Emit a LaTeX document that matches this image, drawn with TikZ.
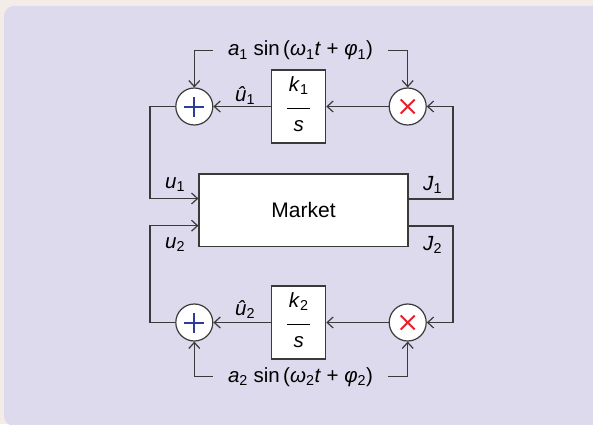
\documentclass[tikz,border=0pt]{standalone}
\usepackage{fontspec}
\setmainfont{Liberation Sans}
\usetikzlibrary{arrows.meta,positioning,calc}
\definecolor{pagebg}{HTML}{F4EDE7}
\definecolor{panelbg}{HTML}{DCDAEC}
\definecolor{wire}{HTML}{3A3A3A}
\definecolor{plusblue}{HTML}{2B3D99}
\definecolor{timesred}{HTML}{E8202A}
\newcommand{\kfrac}[1]{\begin{tabular}{@{}c@{}}\textit{k}\textsubscript{#1}\\[-7pt]\rule{23pt}{1.2pt}\\[-3pt]\textit{s}\end{tabular}}
\newcommand{\sinterm}[1]{\textit{a}\textsubscript{#1} sin\,(\textit{ω}\textsubscript{#1}\textit{t} + \textit{φ}\textsubscript{#1})}
\tikzset{
  sig/.style={-{Straight Barb[length=6pt,width=11pt]},line width=1.2pt,draw=wire},
  block/.style={draw=wire,line width=1.2pt,fill=white,inner sep=0pt},
  junction/.style={circle,draw=wire,line width=1.2pt,fill=white,minimum size=37pt,inner sep=0pt},
  plusjunc/.style={junction,path picture={
    \draw[plusblue,line width=2pt] ([xshift=-10pt]path picture bounding box.center) -- ++(20pt,0)
      ([yshift=-10pt]path picture bounding box.center) -- ++(0,20pt);}},
  timesjunc/.style={junction,path picture={
    \draw[timesred,line width=2pt] ([shift={(-7pt,-7pt)}]path picture bounding box.center) -- ++(14pt,14pt)
      ([shift={(-7pt,7pt)}]path picture bounding box.center) -- ++(14pt,-14pt);}},
  dither/.style={inner xsep=15pt,inner ysep=2pt},
  sublabel/.style={inner sep=0pt,anchor=base west}
}
\begin{document}
\begin{tikzpicture}[x=1pt,y=1pt,font=\fontsize{20.5}{24.6}\selectfont]
  \useasboundingbox (0,0) rectangle (593,424);
  % background panel
  \fill[pagebg] (0,0) rectangle (593,424);
  \begin{scope}
    \clip (0,0) rectangle (593,424);
    \fill[panelbg,rounded corners=10pt] (4,-2) rectangle (610,418);
  \end{scope}
  % plant and integrators
  \node[block,minimum width=209pt,minimum height=72.7pt,font=\fontsize{21}{25}\selectfont] (market) at (303.5,213.7) {Market};
  \node[block,minimum width=54pt,minimum height=73pt] (k1) at (298.7,317.5) {\kfrac{1}};
  \node[block,minimum width=54pt,minimum height=73pt] (k2) at (298.7,101.5) {\kfrac{2}};
  % summing and multiplying junctions
  \node[plusjunc] (add1) at (194.3,317.5) {};
  \node[timesjunc] (mul1) at (407.7,317.5) {};
  \node[plusjunc] (add2) at (194.3,101.5) {};
  \node[timesjunc] (mul2) at (407.7,101.5) {};
  % dither signals
  \node[dither] (sin1) at (300.5,373.3) {\sinterm{1}};
  \node[dither] (sin2) at (300.5,47.3) {\sinterm{2}};
  \coordinate (lft) at (150,0);
  \coordinate (rgt) at (453,0);
  % loop 1
  \draw[sig] (mul1) -- (k1);
  \draw[sig] (k1) -- (add1);
  \draw[sig] (add1.west) -- (add1.west -| lft) |- ([yshift=11.8pt]market.west);
  \draw[sig] ([yshift=11.3pt]market.east) -- ([yshift=11.3pt]market.east -| rgt) |- (mul1.east);
  \draw[sig] (sin1.west) -| (add1.north);
  \draw[sig] (sin1.east) -| (mul1.north);
  % loop 2
  \draw[sig] (mul2) -- (k2);
  \draw[sig] (k2) -- (add2);
  \draw[sig] (add2.west) -- (add2.west -| lft) |- ([yshift=-15.4pt]market.west);
  \draw[sig] ([yshift=-15.7pt]market.east) -- ([yshift=-15.7pt]market.east -| rgt) |- (mul2.east);
  \draw[sig] (sin2.west) -| (add2.south);
  \draw[sig] (sin2.east) -| (mul2.south);
  % signal labels
  \node[sublabel] (lu1) at (235,322.3) {\textit{û}\textsubscript{1}};
  \node[sublabel] (lu2) at (235,109) {\textit{û}\textsubscript{2}};
  \node[sublabel] (u1) at (165,236) {\textit{u}\textsubscript{1}};
  \node[sublabel] (u2) at (165,176) {\textit{u}\textsubscript{2}};
  \node[sublabel] (J1) at (423,234) {\textit{J}\textsubscript{1}};
  \node[sublabel] (J2) at (423,174) {\textit{J}\textsubscript{2}};
\end{tikzpicture}
\end{document}
